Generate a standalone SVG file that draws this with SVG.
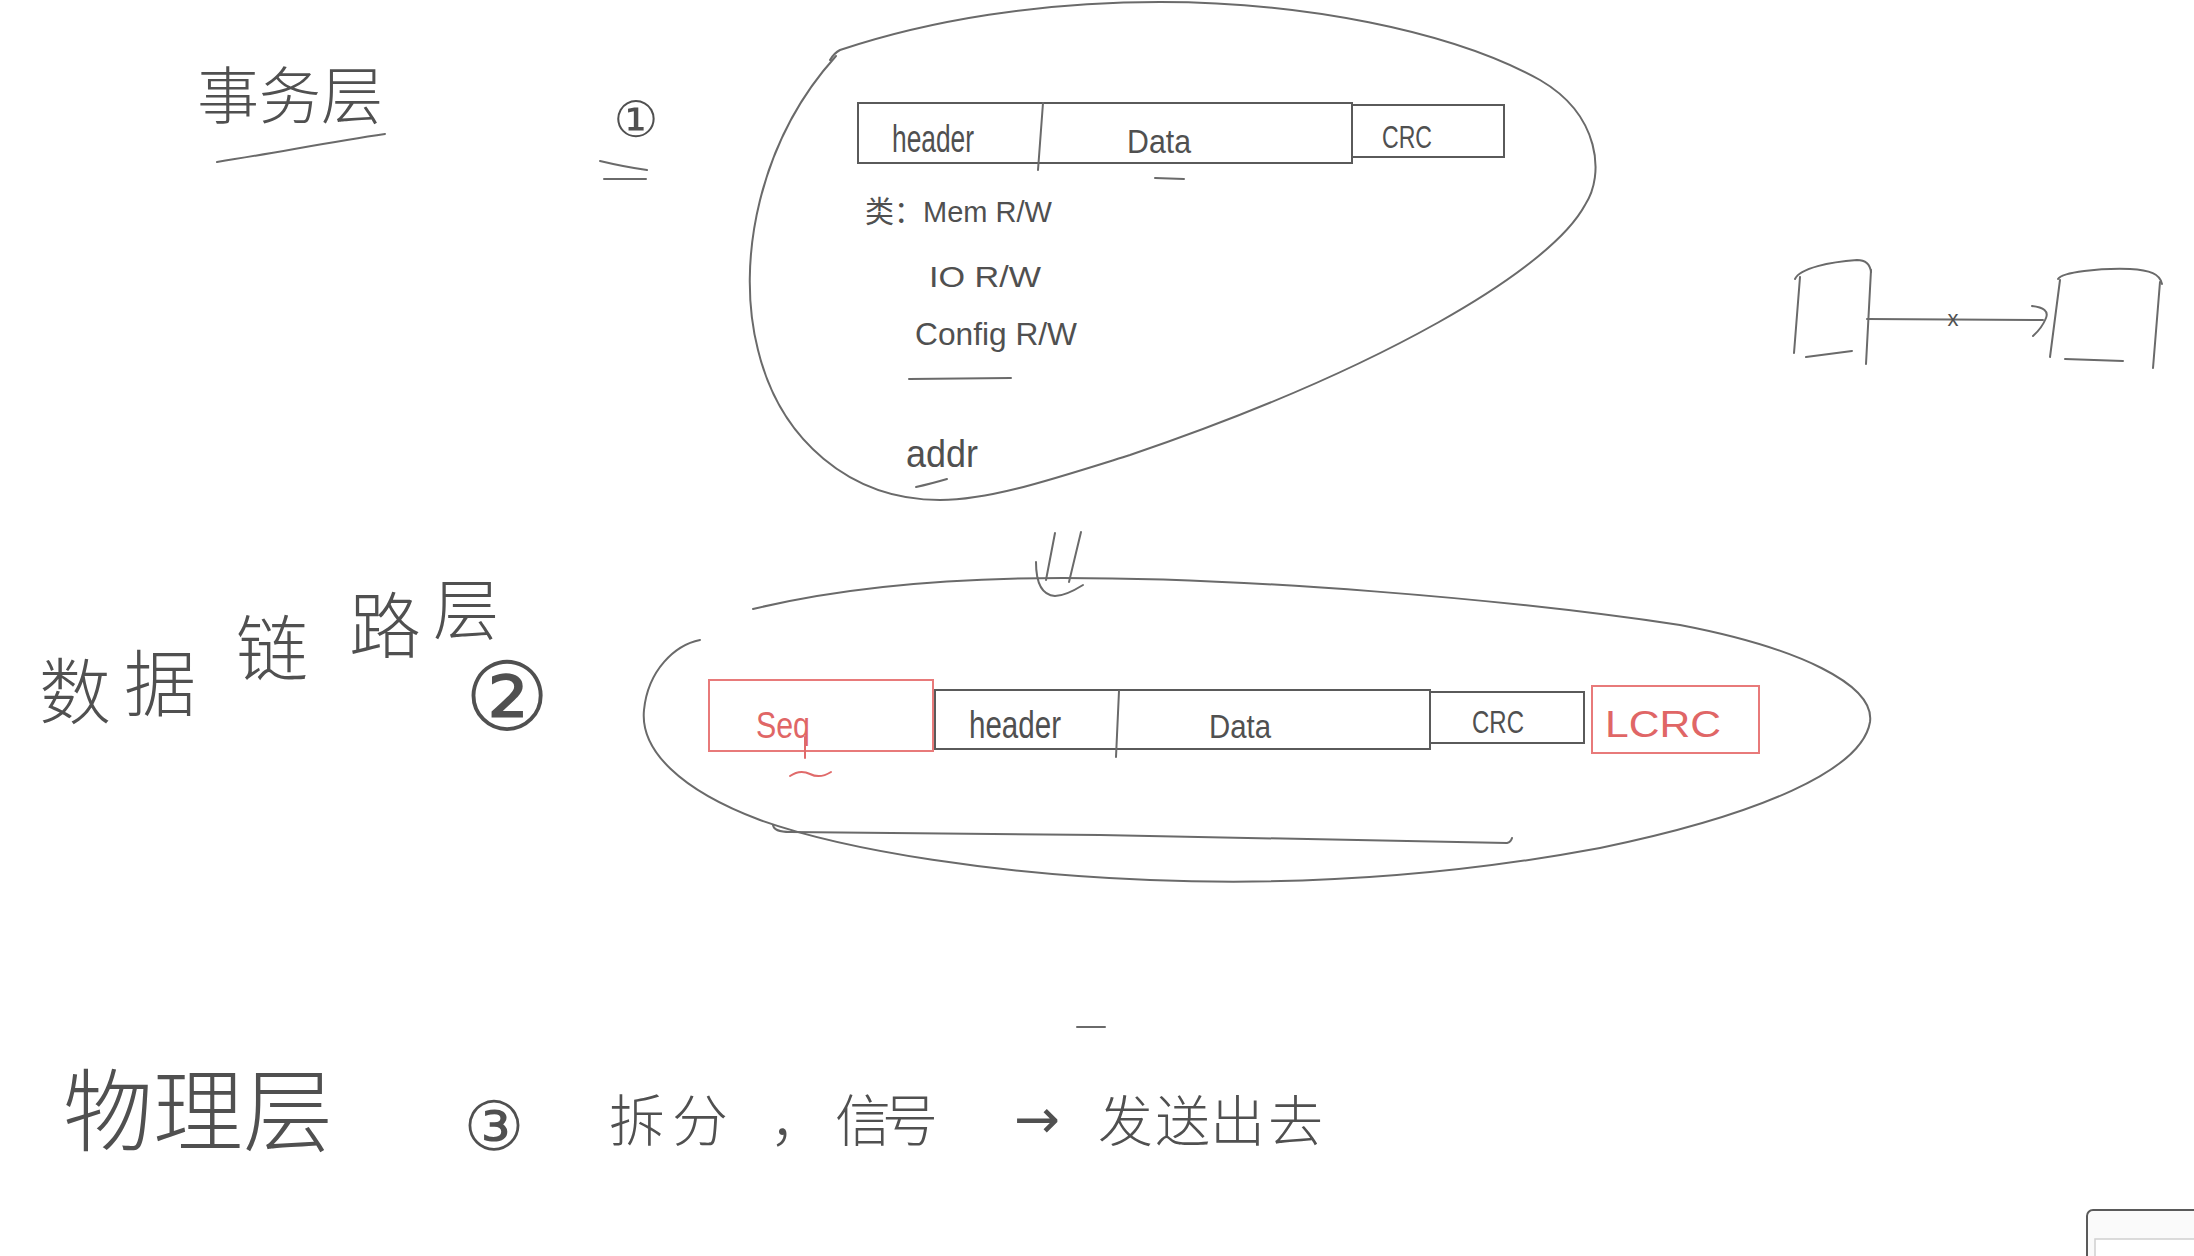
<svg xmlns="http://www.w3.org/2000/svg" width="2194" height="1256" viewBox="0 0 2194 1256">
<defs>
<style>
.ln{fill:none;stroke:#6a6a6a;stroke-width:2;stroke-linecap:round;stroke-linejoin:round}
.box{fill:none;stroke:#5a5a5a;stroke-width:2}
.rbox{fill:none;stroke:#e87a7a;stroke-width:2}
.rln{fill:none;stroke:#e06a6a;stroke-width:2;stroke-linecap:round}
.t{font-family:"Liberation Sans","Noto Sans CJK SC",sans-serif;fill:#505050}
.cj{font-family:"Noto Sans CJK SC","Noto Sans CJK JP",sans-serif;fill:#505050;font-weight:300}
.sym{font-family:"DejaVu Sans","Noto Sans CJK SC",sans-serif;fill:#505050}
.red{fill:#e06666}
</style>
</defs>
<rect width="2194" height="1256" fill="#ffffff"/>

<g id="title-transaction-layer">
<text class="cj" x="197" y="119" font-size="62">事务层</text>
<path class="ln" d="M 217 162 C 280 152, 330 142, 385 134"/>
<text class="sym" x="636" y="137" font-size="50" text-anchor="middle">①</text>
<path class="ln" d="M 600 161 Q 625 167 647 170"/>
<path class="ln" d="M 604 179 L 646 179"/>
</g>

<g id="transaction-packet">
<path class="ln" d="M 830 60 C 833 55, 836 52, 840 50 C 930 20, 1040 2, 1160 2 C 1300 2, 1450 30, 1540 80 C 1600 115, 1605 175, 1585 205 C 1550 270, 1380 370, 1130 455 C 1050 480, 990 500, 940 500 C 850 500, 780 440, 758 350 C 735 260, 760 140, 836 56"/>
<rect class="box" x="858" y="103" width="494" height="60"/>
<rect class="box" x="1352" y="105" width="152" height="52"/>
<path class="ln" d="M 1043 103 L 1038 170"/>
<text class="t" x="892" y="152" font-size="38" textLength="82" lengthAdjust="spacingAndGlyphs">header</text>
<text class="t" x="1127" y="153" font-size="34" textLength="64" lengthAdjust="spacingAndGlyphs">Data</text>
<path class="ln" d="M 1155 178 L 1184 179"/>
<text class="t" x="1382" y="148" font-size="32" textLength="50" lengthAdjust="spacingAndGlyphs">CRC</text>
<text class="t" x="865" y="222" font-size="30" textLength="187" lengthAdjust="spacingAndGlyphs">类：Mem R/W</text>
<text class="t" x="929" y="287" font-size="30" textLength="112" lengthAdjust="spacingAndGlyphs">IO R/W</text>
<text class="t" x="915" y="345" font-size="32" textLength="162" lengthAdjust="spacingAndGlyphs">Config R/W</text>
<path class="ln" d="M 909 379 L 1011 378"/>
<text class="t" x="906" y="467" font-size="38" textLength="72" lengthAdjust="spacingAndGlyphs">addr</text>
<path class="ln" d="M 916 487 Q 930 484 947 479"/>
</g>

<g id="title-data-link-layer">
<text class="cj" x="75" y="718" font-size="72" text-anchor="middle">数</text>
<text class="cj" x="160" y="710" font-size="72" text-anchor="middle">据</text>
<text class="cj" x="272" y="675" font-size="72" text-anchor="middle">链</text>
<text class="cj" x="385" y="652" font-size="72" text-anchor="middle">路</text>
<text class="cj" x="466" y="634" font-size="66" text-anchor="middle">层</text>
<text class="sym" x="507" y="730" font-size="95" text-anchor="middle">②</text>
</g>

<g id="data-link-packet">
<path class="ln" d="M 753 609 C 840 588, 950 578, 1063 578 C 1250 578, 1500 598, 1680 625 C 1800 648, 1875 685, 1870 722 C 1862 770, 1760 815, 1600 848 C 1450 876, 1300 886, 1150 880 C 1000 874, 850 852, 760 820 C 680 790, 640 750, 644 710 C 648 670, 675 645, 700 640"/>
<rect class="rbox" x="709" y="680" width="224" height="71"/>
<rect class="box" x="935" y="690" width="495" height="59"/>
<rect class="box" x="1430" y="692" width="154" height="51"/>
<rect class="rbox" x="1592" y="686" width="167" height="67"/>
<path class="ln" d="M 1119 691 L 1116 757"/>
<text class="t red" x="756" y="738" font-size="36" textLength="54" lengthAdjust="spacingAndGlyphs">Seq</text>
<path class="rln" d="M 805 737 L 805 758"/>
<path class="rln" d="M 790 776 Q 800 769 810 774 Q 820 779 831 772"/>
<text class="t" x="969" y="738" font-size="38" textLength="92" lengthAdjust="spacingAndGlyphs">header</text>
<text class="t" x="1209" y="738" font-size="34" textLength="62" lengthAdjust="spacingAndGlyphs">Data</text>
<text class="t" x="1472" y="733" font-size="32" textLength="52" lengthAdjust="spacingAndGlyphs">CRC</text>
<text class="t red" x="1605" y="737" font-size="36" textLength="116" lengthAdjust="spacingAndGlyphs">LCRC</text>
<path class="ln" d="M 773 825 Q 774 832 790 832 L 1100 835 L 1507 843 Q 1511 842 1512 838"/>
</g>

<g id="physical-layer">
<text class="cj" x="63" y="1144" font-size="90">物理层</text>
<text class="sym" x="494" y="1150" font-size="68" text-anchor="middle">③</text>
<text class="cj" x="609 672 770 835 882" y="1141" font-size="56">拆分，信号</text>
<text class="sym" x="1014" y="1138" font-size="55">→</text>
<text class="cj" x="1098 1155 1210 1268" y="1141" font-size="55">发送出去</text>
<path class="ln" d="M 1077 1027 L 1105 1027"/>
</g>

<g id="node-left-device">
<path class="ln" d="M 1795 279 C 1800 268, 1830 262, 1857 260 C 1866 260, 1870 264, 1871 272"/>
<path class="ln" d="M 1871 270 L 1866 364"/>
<path class="ln" d="M 1800 277 L 1794 353"/>
<path class="ln" d="M 1806 357 L 1852 351"/>
</g>
<g id="node-right-device">
<path class="ln" d="M 2058 279 C 2062 272, 2100 268, 2130 269 C 2150 270, 2160 274, 2162 284"/>
<path class="ln" d="M 2160 282 L 2153 368"/>
<path class="ln" d="M 2060 280 L 2050 357"/>
<path class="ln" d="M 2065 359 L 2123 361"/>
</g>

<g id="connectors">
<path class="ln" d="M 1867 319 L 2043 320"/>
<path class="ln" d="M 2032 306 Q 2050 308 2046 318 Q 2042 328 2033 336"/>
<text class="t" x="1953" y="326" font-size="22" text-anchor="middle">x</text>
<path class="ln" d="M 1055 533 L 1046 580"/>
<path class="ln" d="M 1081 532 L 1069 582"/>
<path class="ln" d="M 1036 562 C 1036 580, 1040 595, 1055 596 C 1065 596, 1075 590, 1083 585"/>
</g>

<g id="corner-window">
<rect x="2087" y="1210" width="200" height="100" rx="6" fill="#fafafa" stroke="#5a5a5a" stroke-width="2"/>
<rect x="2095" y="1239" width="150" height="60" fill="#ffffff" stroke="#d0d0d0" stroke-width="1.5"/>
</g>
</svg>
